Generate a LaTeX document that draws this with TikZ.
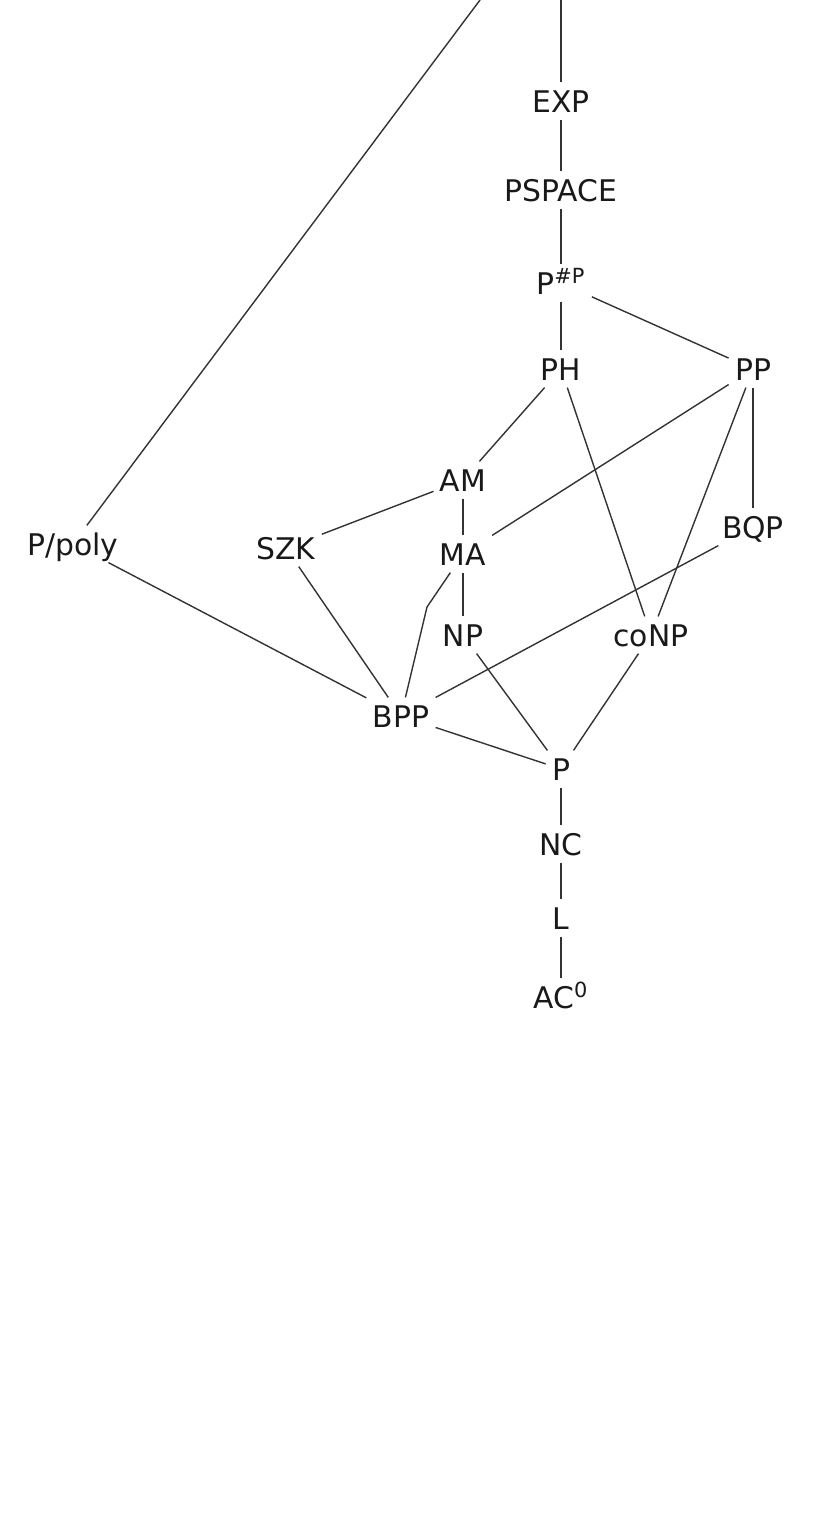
\documentclass[tikz,border=0pt]{standalone}
\usepackage{fontspec}
\setmainfont{DejaVu Sans}
\begin{document}
\begin{tikzpicture}[x=0.5pt,y=-0.5pt,
  cls/.style={inner xsep=3pt,inner ysep=3.6pt,text height=11pt,text depth=0pt,
    font=\fontsize{14.9}{18}\selectfont,text=black!90},
  edge/.style={draw=black!80,line width=0.7pt}]
\useasboundingbox (0,0) rectangle (826,1537);
\coordinate (topA) at (561,0);
\coordinate (topB) at (480,0);
\node[cls] (EXP) at (561,101) {EXP};
\node[cls] (PSPACE) at (561,190) {PSPACE};
\node[cls] (PshP) at (561,283) {P\textsuperscript{\#P}};
\node[cls] (PH) at (561,369) {PH};
\node[cls] (PP) at (753,369) {PP};
\node[cls] (AM) at (463,480) {AM};
\node[cls] (MA) at (463,554) {MA};
\node[cls] (SZK) at (286,548) {SZK};
\node[cls] (Ppoly) at (73,544) {P/poly};
\node[cls] (BQP) at (753,527) {BQP};
\node[cls] (NP) at (463,635) {NP};
\node[cls] (coNP) at (651,635) {coNP};
\node[cls] (BPP) at (401,716) {BPP};
\node[cls] (P) at (561,769) {P};
\node[cls] (NC) at (561,844) {NC};
\node[cls] (L) at (561,918) {L};
\node[cls] (AC) at (561,997) {AC\textsuperscript{0}};
\coordinate (bend) at (427,607);
\path[edge] (topA) -- (EXP);
\path[edge] (topB) -- (Ppoly);
\path[edge] (EXP) -- (PSPACE);
\path[edge] (PSPACE) -- (PshP);
\path[edge] (PshP) -- (PH);
\path[edge] (PshP) -- (PP);
\path[edge] (PH) -- (AM);
\path[edge] (PH) -- (coNP);
\path[edge] (PP) -- (MA);
\path[edge] (PP) -- (coNP);
\path[edge] (PP) -- (BQP);
\path[edge] (AM) -- (SZK);
\path[edge] (AM) -- (MA);
\path[edge] (MA) -- (NP);
\path[edge] (MA) -- (bend) -- (BPP);
\path[edge] (SZK) -- (BPP);
\path[edge] (Ppoly) -- (BPP);
\path[edge] (BQP) -- (BPP);
\path[edge] (BPP) -- (P);
\path[edge] (NP) -- (P);
\path[edge] (coNP) -- (P);
\path[edge] (P) -- (NC);
\path[edge] (NC) -- (L);
\path[edge] (L) -- (AC);
\end{tikzpicture}
\end{document}
